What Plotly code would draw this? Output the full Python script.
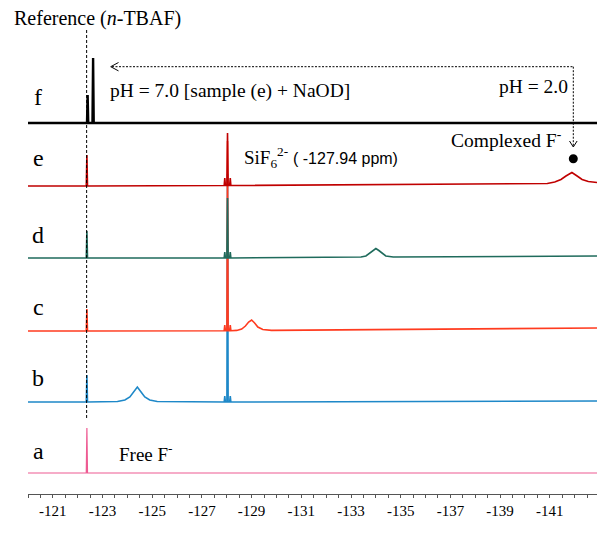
import plotly.graph_objects as go

# ---- data (ppm, intensity above each trace's own baseline) ----
labels = ["a", "b", "c", "d", "e", "f"]

ppm_a = [-120, -122.345, -122.37, -122.395, -142.9]
int_a = [0, 0, 45, 0, 0]

ppm_b = [-120, -122.345, -122.37, -122.395, -123.6, -123.9, -124.1, -124.25, -124.4, -124.55,
         -124.7, -124.9, -125.2, -127.895, -127.92, -127.945, -128.005, -128.03, -128.055,
         -128.115, -128.14, -128.165, -142.9]
int_b = [0, 0, 27, 0, 0.5, 2, 5, 10, 15, 10, 5, 2, 0.5, 0, 6, 0, 0, 228, 0, 0, 6, 0, 1]

ppm_c = [-120, -122.345, -122.37, -122.395, -127.895, -127.92, -127.945, -128.005, -128.03,
         -128.055, -128.115, -128.14, -128.165, -128.4, -128.6, -128.75, -128.88, -129.0, -129.12,
         -129.25, -129.45, -129.8, -142.9]
int_c = [0, 0, 22, 0, 0.3, 6, 0.3, 0.3, 190, 0.3, 0.3, 6, 0.3, 0.6, 2, 5, 9, 11, 8, 4, 1.5, 0.6, 3]

ppm_d = [-120, -122.345, -122.37, -122.395, -127.895, -127.92, -127.945, -128.005, -128.03,
         -128.055, -128.115, -128.14, -128.165, -133.4, -133.6, -133.75, -133.88, -134.0, -134.12,
         -134.25, -134.4, -134.7, -142.9]
int_d = [0, 0, 27, 0, 0, 6, 0, 0, 60, 0, 0, 6, 0, 1, 2, 4.5, 7.5, 9.5, 7.5, 4.5, 2, 1, 2]

ppm_e = [-120, -122.345, -122.37, -122.395, -127.895, -127.92, -127.945, -128.005, -128.03,
         -128.055, -128.115, -128.14, -128.165, -140.9, -141.2, -141.45, -141.65, -141.89, -142.1,
         -142.3, -142.55, -142.9]
int_e = [0, 0, 31, 0, 0.5, 8, 0.5, 0.5, 53, 0.5, 0.5, 8, 0.5, 2.5, 4, 6.5, 10, 13.5, 10, 6.5, 4.5, 3.5]

ppm_f = [-120, -122.375, -122.40, -122.425, -122.595, -122.62, -122.645, -142.9]
int_f = [0, 0, 28, 0, 0, 65, 0, 0]

tick_vals = [-121, -123, -125, -127, -129, -131, -133, -135, -137, -139, -141]
tick_text = ["-121", "-123", "-125", "-127", "-129", "-131", "-133", "-135", "-137", "-139", "-141"]

# ---- layout helpers (plot box: x 28..597 px, y 0..494 px) ----
X_LEFT, X_RIGHT = -120.0, -142.9
PL, PW, PH = 28, 569, 494
def px_x(px):
    return X_LEFT + (px - PL) / PW * (X_RIGHT - X_LEFT)
def px_y(py):
    return PH - py

offsets = [21, 92, 163, 236, 308, 371]
colors = ["#EE5A92", "#1E88C8", "#FF3B1F", "#1F6B5C", "#C00000", "#000000"]
widths = [1.2, 1.6, 1.6, 1.6, 1.6, 2.4]
series = [(ppm_a, int_a), (ppm_b, int_b), (ppm_c, int_c), (ppm_d, int_d), (ppm_e, int_e), (ppm_f, int_f)]

fig = go.Figure()
for (xs, ys), off, col, w, lab in zip(series, offsets, colors, widths, labels):
    fig.add_trace(go.Scatter(x=xs, y=[v + off for v in ys], mode="lines",
                             line=dict(color=col, width=w), name=lab, showlegend=False,
                             hoverinfo="skip"))

SERIF = "Liberation Serif"
ann = []
letter_pos = {"f": 97, "e": 158, "d": 235, "c": 307, "b": 378, "a": 451}
for k, py in letter_pos.items():
    ann.append(dict(x=px_x(38), y=px_y(py), text=k, showarrow=False,
                    font=dict(family=SERIF, size=24, color="black")))

ann.append(dict(x=px_x(97), y=px_y(18), text="Reference (<i>n</i>-TBAF)", showarrow=False,
                font=dict(family=SERIF, size=20, color="black")))
ann.append(dict(x=px_x(108), y=px_y(91), text="pH = 7.0 [sample (e) + NaOD]", showarrow=False,
                xanchor="left", font=dict(family=SERIF, size=19.5, color="black")))
ann.append(dict(x=px_x(533), y=px_y(86), text="pH = 2.0", showarrow=False,
                font=dict(family=SERIF, size=19.5, color="black")))
ann.append(dict(x=px_x(564), y=px_y(139), text="Complexed F<sup>-</sup>", showarrow=False,
                xanchor="right", font=dict(family=SERIF, size=19.5, color="black")))
ann.append(dict(x=px_x(242), y=px_y(157), text="SiF<sub>6</sub><sup>2-</sup>", showarrow=False,
                xanchor="left", font=dict(family=SERIF, size=19, color="black")))
ann.append(dict(x=px_x(291), y=px_y(158), text="( -127.94 ppm)", showarrow=False,
                xanchor="left", font=dict(family="Liberation Sans", size=16, color="black")))
ann.append(dict(x=px_x(117), y=px_y(453), text="Free F<sup>-</sup>", showarrow=False,
                xanchor="left", font=dict(family=SERIF, size=19, color="black")))
ann.append(dict(x=px_x(294), y=px_y(533), text="(ppm)", showarrow=False,
                font=dict(family=SERIF, size=19, color="black")))

shapes = []
shapes.append(dict(type="line", x0=-122.36, x1=-122.36, y0=px_y(30), y1=px_y(418),
                   line=dict(color="black", width=1, dash="3px,2px")))
shapes.append(dict(type="line", x0=px_x(112), x1=px_x(573.3), y0=px_y(66.7), y1=px_y(66.7),
                   line=dict(color="black", width=1, dash="2px,1.5px")))
shapes.append(dict(type="line", x0=px_x(573.3), x1=px_x(573.3), y0=px_y(66.7), y1=px_y(146),
                   line=dict(color="black", width=1, dash="2px,1.5px")))
shapes.append(dict(type="path",
                   path=f"M {px_x(118.5)},{px_y(62.5)} L {px_x(110.7)},{px_y(66.7)} L {px_x(118.5)},{px_y(70.9)}",
                   line=dict(color="black", width=1)))
shapes.append(dict(type="path",
                   path=f"M {px_x(569.5)},{px_y(141)} L {px_x(573.3)},{px_y(147)} L {px_x(577.1)},{px_y(141)}",
                   line=dict(color="black", width=1)))
shapes.append(dict(type="circle", x0=px_x(568.8), x1=px_x(577.8), y0=px_y(154.2), y1=px_y(163.2),
                   fillcolor="black", line=dict(color="black", width=0)))

fig.update_layout(
    width=597, height=544,
    margin=dict(l=PL, r=0, t=0, b=544 - PH),
    paper_bgcolor="white", plot_bgcolor="white",
    annotations=ann, shapes=shapes,
    xaxis=dict(range=[X_LEFT, X_RIGHT], showgrid=False, zeroline=False,
               showline=True, linecolor="#555555", linewidth=1,
               ticks="outside", ticklen=3, tickcolor="#555555", tickwidth=1,
               tickvals=tick_vals, ticktext=tick_text,
               tickfont=dict(family=SERIF, size=15, color="black"),
               minor=dict(dtick=0.5, tick0=-120, ticks="outside", ticklen=3,
                          tickcolor="#555555", tickwidth=1)),
    yaxis=dict(range=[0, PH], visible=False, showgrid=False, zeroline=False),
)

fig.write_html("out.html")
